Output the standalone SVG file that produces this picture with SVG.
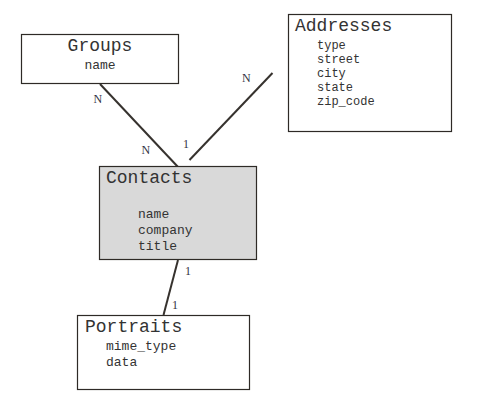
<svg xmlns="http://www.w3.org/2000/svg" width="496" height="406" viewBox="0 0 496 406">
<style>
.box{fill:#fff;stroke:#2e2a26;stroke-width:1.2}
.shade{fill:#d9d9d9}
.title{font-family:"Liberation Mono",monospace;font-size:18px;fill:#333}
.attr{font-family:"Liberation Mono",monospace;font-size:13px;fill:#333}
.attr2{font-family:"Liberation Mono",monospace;font-size:12px;fill:#333}
.conn{stroke:#36322e;stroke-width:2;fill:none}
.lbl{font-family:"Liberation Serif",serif;font-size:12px;fill:#334}
</style>
<rect width="496" height="406" fill="#fff"/>
<g id="connectors">
<line class="conn" x1="100" y1="84" x2="178" y2="167"/>
<line class="conn" x1="272.5" y1="73" x2="189.5" y2="160"/>
<line class="conn" x1="178" y1="260" x2="163.5" y2="315"/>
<text class="lbl" x="93.5" y="103">N</text>
<text class="lbl" x="141.5" y="154">N</text>
<text class="lbl" x="183" y="148">1</text>
<text class="lbl" x="242" y="82">N</text>
<text class="lbl" x="185" y="275">1</text>
<text class="lbl" x="172" y="309">1</text>
</g>
<g id="groups">
<rect class="box" x="21.5" y="34.5" width="157" height="49"/>
<text class="title" x="100" y="51" text-anchor="middle">Groups</text>
<text class="attr" x="100" y="69" text-anchor="middle">name</text>
</g>
<g id="addresses">
<rect class="box" x="288.5" y="14.5" width="163" height="117"/>
<text class="title" x="295" y="31">Addresses</text>
<text class="attr2" x="317" y="49">type</text>
<text class="attr2" x="317" y="63">street</text>
<text class="attr2" x="317" y="77">city</text>
<text class="attr2" x="317" y="91">state</text>
<text class="attr2" x="317" y="105">zip_code</text>
</g>
<g id="contacts">
<rect class="box shade" x="99.5" y="166.5" width="157" height="93"/>
<text class="title" x="106" y="183">Contacts</text>
<text class="attr" x="138" y="218">name</text>
<text class="attr" x="138" y="234">company</text>
<text class="attr" x="138" y="250">title</text>
</g>
<g id="portraits">
<rect class="box" x="77.5" y="315.5" width="172" height="74"/>
<text class="title" x="85" y="332">Portraits</text>
<text class="attr" x="106" y="350">mime_type</text>
<text class="attr" x="106" y="366">data</text>
</g>
</svg>
